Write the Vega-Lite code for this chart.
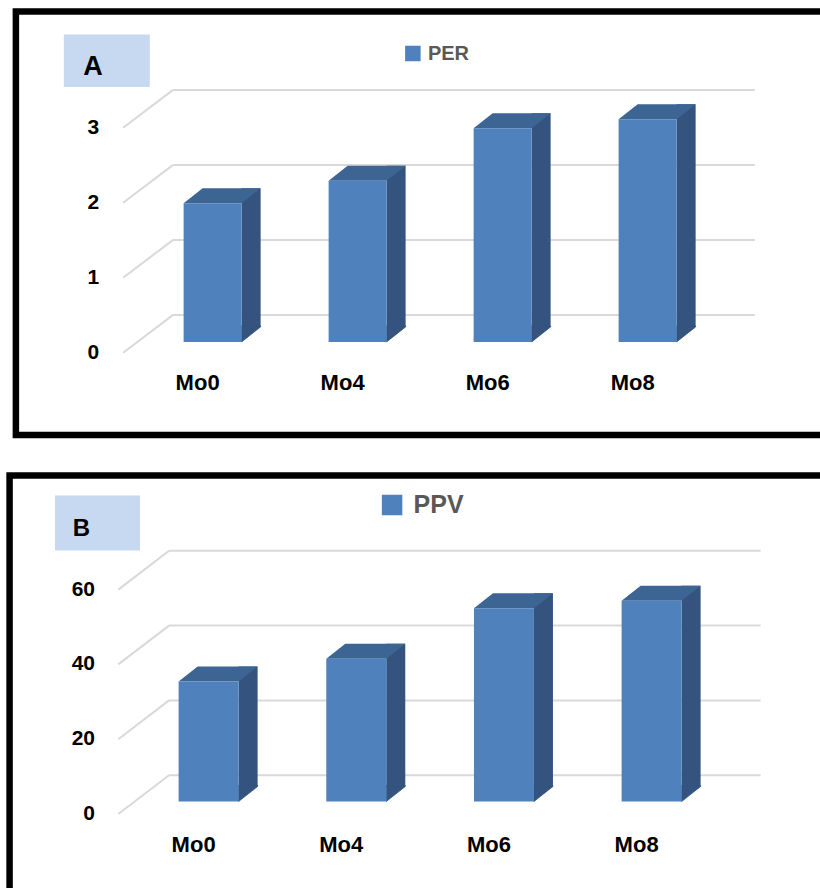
{
  "$schema": "https://vega.github.io/schema/vega-lite/v6.json",
  "padding": {"top": 7.5, "left": 5.5, "right": -35, "bottom": -19},
  "spacing": 33,
  "center": true,
  "resolve": {"scale": {"color": "independent"}},
  "config": {"font": "Liberation Sans", "background": "white"},
  "vconcat": [
    {
      "width": 830,
      "height": 423.4,
      "view": {"stroke": "black", "strokeWidth": 6.5},
      "data": {"values": [
        {"month": "Mo0", "PER": 1.85},
        {"month": "Mo4", "PER": 2.15},
        {"month": "Mo6", "PER": 2.85},
        {"month": "Mo8", "PER": 2.97}
      ]},
      "layer": [
        {
          "data": {"values": [{"t": 0}, {"t": 1}, {"t": 2}, {"t": 3}]},
          "mark": {"type": "rule", "color": "#D9D9D9", "strokeWidth": 2, "xOffset": -39.5, "x2Offset": 107.2, "yOffset": -37.8},
          "encoding": {
            "x": {"datum": "Mo0", "type": "nominal", "scale": {"domain": ["Mo0", "Mo4", "Mo6", "Mo8"], "paddingInner": 0, "paddingOuter": 0.862, "align": 0.497}, "axis": null},
            "x2": {"datum": "Mo8"},
            "y": {"field": "t", "type": "quantitative", "scale": {"domain": [-1.096, 4.549], "nice": false, "zero": false}, "axis": null}
          }
        },
        {
          "data": {"values": [{"t": 0}, {"t": 1}, {"t": 2}, {"t": 3}]},
          "mark": {"type": "rule", "color": "#D9D9D9", "strokeWidth": 2, "xOffset": -89.5, "x2Offset": -39.5, "y2Offset": -37.8},
          "encoding": {
            "x": {"datum": "Mo0", "type": "nominal", "axis": null},
            "x2": {"datum": "Mo0"},
            "y": {"field": "t", "type": "quantitative", "axis": null},
            "y2": {"field": "t"}
          }
        },
        {
          "data": {"values": [{"t": 0}, {"t": 1}, {"t": 2}, {"t": 3}]},
          "mark": {"type": "text", "fontSize": 21, "fontWeight": "bold", "color": "black", "align": "right", "baseline": "middle", "xOffset": -113.4},
          "encoding": {
            "x": {"datum": "Mo0", "type": "nominal", "axis": null},
            "y": {"field": "t", "type": "quantitative", "axis": null},
            "text": {"field": "t"}
          }
        },
        {
          "mark": {"type": "bar", "color": "#34547F", "width": 19, "xOffset": 38.5, "yOffset": -25.8, "y2Offset": -25.8},
          "encoding": {
            "x": {"field": "month", "type": "nominal", "axis": null},
            "y": {"field": "PER", "type": "quantitative", "axis": null},
            "y2": {"datum": 0}
          }
        },
        {
          "mark": {"type": "point", "shape": "M 0 -16 L 19 -16 L 19 -15 L 0 0 Z", "size": 4, "filled": true, "opacity": 1,
            "color": "#34547F", "stroke": "#34547F", "strokeWidth": 0.8, "xOffset": 29, "yOffset": -10.8},
          "encoding": {
            "x": {"field": "month", "type": "nominal", "axis": null},
            "y": {"datum": 0, "type": "quantitative", "axis": null}
          }
        },
        {
          "mark": {"type": "point", "shape": "M -29 0 L 29 0 L 48 -15 L -10 -15 Z", "size": 4, "filled": true, "opacity": 1,
            "color": "#3D6594", "yOffset": -10.8},
          "encoding": {
            "x": {"field": "month", "type": "nominal", "axis": null},
            "y": {"field": "PER", "type": "quantitative", "axis": null}
          }
        },
        {
          "mark": {"type": "bar", "width": 58, "yOffset": -10.8, "y2Offset": -10.8},
          "encoding": {
            "x": {"field": "month", "type": "nominal", "axis": null},
            "y": {"field": "PER", "type": "quantitative", "axis": null},
            "y2": {"datum": 0},
            "color": {"datum": "PER", "scale": {"range": ["#4F81BD"]},
              "legend": {"orient": "none", "legendX": 387, "legendY": 32, "title": null, "padding": 0,
                "symbolType": "square", "symbolSize": 240, "symbolStrokeWidth": 0, "labelOffset": 5,
                "labelFontSize": 20, "labelFontWeight": "bold", "labelColor": "#595959", "labelFont": "Liberation Sans"}}
          }
        },
        {
          "mark": {"type": "text", "fontSize": 22, "fontWeight": "bold", "color": "black", "align": "center", "baseline": "middle",
            "xOffset": -15, "yOffset": 30.8},
          "encoding": {
            "x": {"field": "month", "type": "nominal", "axis": null},
            "y": {"datum": 0, "type": "quantitative", "axis": null},
            "text": {"field": "month"}
          }
        },
        {
          "data": {"values": [{"panel": "A"}]},
          "mark": {"type": "point", "shape": "M -43 -26.2 L 43 -26.2 L 43 26.2 L -43 26.2 Z", "size": 4, "filled": true,
            "opacity": 1, "color": "#C6D9F1", "xOffset": -105.8, "yOffset": 8},
          "encoding": {
            "x": {"datum": "Mo0", "type": "nominal", "axis": null},
            "y": {"datum": 4, "type": "quantitative", "axis": null}
          }
        },
        {
          "data": {"values": [{"panel": "A"}]},
          "mark": {"type": "text", "fontSize": 27, "fontWeight": "bold", "color": "black", "align": "center",
            "baseline": "alphabetic", "xOffset": -119.5, "yOffset": 22.5},
          "encoding": {
            "x": {"datum": "Mo0", "type": "nominal", "axis": null},
            "y": {"datum": 4, "type": "quantitative", "axis": null},
            "text": {"field": "panel"}
          }
        }
      ]
    },
    {
      "width": 842.6,
      "height": 430,
      "view": {"stroke": "black", "strokeWidth": 6.5},
      "data": {"values": [
        {"month": "Mo0", "PPV": 32.1},
        {"month": "Mo4", "PPV": 38.2},
        {"month": "Mo6", "PPV": 51.7},
        {"month": "Mo8", "PPV": 53.7}
      ]},
      "layer": [
        {
          "data": {"values": [{"t": 0}, {"t": 20}, {"t": 40}, {"t": 60}]},
          "mark": {"type": "rule", "color": "#D9D9D9", "strokeWidth": 2, "xOffset": -39.6, "x2Offset": 109, "yOffset": -38.8},
          "encoding": {
            "x": {"datum": "Mo0", "type": "nominal", "scale": {"domain": ["Mo0", "Mo4", "Mo6", "Mo8"], "paddingInner": 0, "paddingOuter": 0.853, "align": 0.497}, "axis": null},
            "x2": {"datum": "Mo8"},
            "y": {"field": "t", "type": "quantitative", "scale": {"domain": [-24.47, 90.51], "nice": false, "zero": false}, "axis": null}
          }
        },
        {
          "data": {"values": [{"t": 0}, {"t": 20}, {"t": 40}, {"t": 60}]},
          "mark": {"type": "rule", "color": "#D9D9D9", "strokeWidth": 2, "xOffset": -90.3, "x2Offset": -39.6, "y2Offset": -38.8},
          "encoding": {
            "x": {"datum": "Mo0", "type": "nominal", "axis": null},
            "x2": {"datum": "Mo0"},
            "y": {"field": "t", "type": "quantitative", "axis": null},
            "y2": {"field": "t"}
          }
        },
        {
          "data": {"values": [{"t": 0}, {"t": 20}, {"t": 40}, {"t": 60}]},
          "mark": {"type": "text", "fontSize": 21, "fontWeight": "bold", "color": "black", "align": "right", "baseline": "middle", "xOffset": -113.6},
          "encoding": {
            "x": {"datum": "Mo0", "type": "nominal", "axis": null},
            "y": {"field": "t", "type": "quantitative", "axis": null},
            "text": {"field": "t"}
          }
        },
        {
          "mark": {"type": "bar", "color": "#34547F", "width": 19, "xOffset": 39.5, "yOffset": -27.5, "y2Offset": -27.5},
          "encoding": {
            "x": {"field": "month", "type": "nominal", "axis": null},
            "y": {"field": "PPV", "type": "quantitative", "axis": null},
            "y2": {"datum": 0}
          }
        },
        {
          "mark": {"type": "point", "shape": "M 0 -16 L 19 -16 L 19 -15 L 0 0 Z", "size": 4, "filled": true, "opacity": 1,
            "color": "#34547F", "stroke": "#34547F", "strokeWidth": 0.8, "xOffset": 30, "yOffset": -12.5},
          "encoding": {
            "x": {"field": "month", "type": "nominal", "axis": null},
            "y": {"datum": 0, "type": "quantitative", "axis": null}
          }
        },
        {
          "mark": {"type": "point", "shape": "M -30 0 L 30 0 L 49 -15 L -11 -15 Z", "size": 4, "filled": true, "opacity": 1,
            "color": "#3D6594", "yOffset": -12.5},
          "encoding": {
            "x": {"field": "month", "type": "nominal", "axis": null},
            "y": {"field": "PPV", "type": "quantitative", "axis": null}
          }
        },
        {
          "mark": {"type": "bar", "width": 60, "yOffset": -12.5, "y2Offset": -12.5},
          "encoding": {
            "x": {"field": "month", "type": "nominal", "axis": null},
            "y": {"field": "PPV", "type": "quantitative", "axis": null},
            "y2": {"datum": 0},
            "color": {"datum": "PPV", "scale": {"range": ["#4F81BD"]},
              "legend": {"orient": "none", "legendX": 370, "legendY": 17, "title": null, "padding": 0,
                "symbolType": "square", "symbolSize": 420, "symbolStrokeWidth": 0, "labelOffset": 9,
                "labelFontSize": 25, "labelFontWeight": "bold", "labelColor": "#595959", "labelFont": "Liberation Sans"}}
          }
        },
        {
          "mark": {"type": "text", "fontSize": 22, "fontWeight": "bold", "color": "black", "align": "center", "baseline": "middle",
            "xOffset": -15, "yOffset": 31},
          "encoding": {
            "x": {"field": "month", "type": "nominal", "axis": null},
            "y": {"datum": 0, "type": "quantitative", "axis": null},
            "text": {"field": "month"}
          }
        },
        {
          "data": {"values": [{"panel": "B"}]},
          "mark": {"type": "point", "shape": "M -42.5 -27.5 L 42.5 -27.5 L 42.5 27.5 L -42.5 27.5 Z", "size": 4, "filled": true,
            "opacity": 1, "color": "#C6D9F1", "xOffset": -111.1, "yOffset": 8.2},
          "encoding": {
            "x": {"datum": "Mo0", "type": "nominal", "axis": null},
            "y": {"datum": 80, "type": "quantitative", "axis": null}
          }
        },
        {
          "data": {"values": [{"panel": "B"}]},
          "mark": {"type": "text", "fontSize": 24, "fontWeight": "bold", "color": "black", "align": "center",
            "baseline": "alphabetic", "xOffset": -127.1, "yOffset": 20.7},
          "encoding": {
            "x": {"datum": "Mo0", "type": "nominal", "axis": null},
            "y": {"datum": 80, "type": "quantitative", "axis": null},
            "text": {"field": "panel"}
          }
        }
      ]
    }
  ]
}
